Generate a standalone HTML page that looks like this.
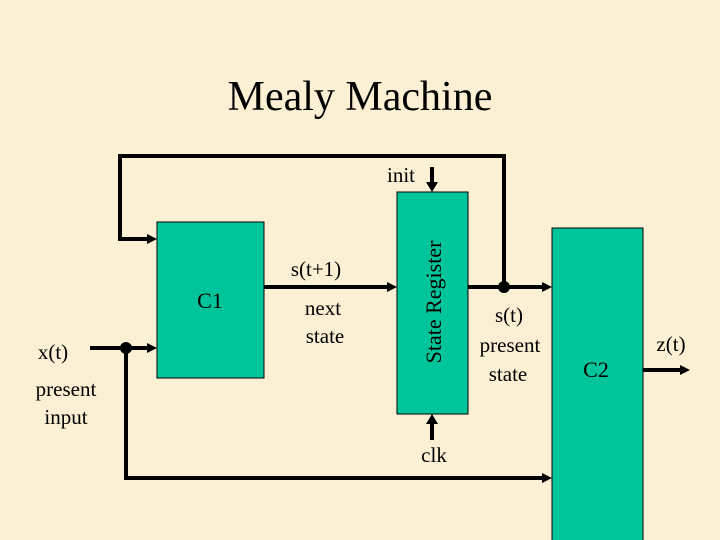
<!DOCTYPE html>
<html><head><meta charset="utf-8"><style>
body{margin:0;width:720px;height:540px;overflow:hidden;background:#fcf0d6;}
svg{display:block}
</style></head><body>
<svg width="720" height="540" xmlns="http://www.w3.org/2000/svg" font-family="Liberation Serif, serif">
<defs>
<marker id="a" markerWidth="10" markerHeight="10" refX="10" refY="5" orient="auto" markerUnits="userSpaceOnUse"><path d="M0,0 L10,5 L0,10 z" fill="#000"/></marker>
</defs>
<rect width="720" height="540" fill="#fbefd4"/>
<text x="360" y="110" font-size="42" text-anchor="middle">Mealy Machine</text>
<rect x="157" y="222" width="107" height="156" fill="#00c49a" stroke="#000" stroke-width="1"/>
<rect x="397" y="192" width="71" height="222" fill="#00c49a" stroke="#000" stroke-width="1"/>
<rect x="552" y="228" width="91" height="314" fill="#00c49a" stroke="#000" stroke-width="1"/>
<g stroke="#000" stroke-width="4" fill="none">
<polyline points="504,287 504,156 120,156 120,239 148,239"/>
<line x1="264" y1="287" x2="388" y2="287"/>
<line x1="468" y1="287" x2="543" y2="287"/>
<line x1="90" y1="348" x2="148" y2="348"/>
<polyline points="126,348 126,478 543,478"/>
<line x1="432" y1="167" x2="432" y2="183"/>
<line x1="432" y1="440" x2="432" y2="423"/>
<line x1="643" y1="370" x2="681" y2="370"/>
</g>
<g fill="#000">
<path d="M147,234 L157,239 L147,244 z"/>
<path d="M387,282 L397,287 L387,292 z"/>
<path d="M542,282 L552,287 L542,292 z"/>
<path d="M147,343 L157,348 L147,353 z"/>
<path d="M542,473 L552,478 L542,483 z"/>
<path d="M426,182 L432,192 L438,182 z"/>
<path d="M426,424 L432,414 L438,424 z"/>
<path d="M680,365 L690,370 L680,375 z"/>
</g>
<circle cx="504" cy="287" r="6" fill="#000"/>
<circle cx="126" cy="348" r="6" fill="#000"/>
<g font-size="21" text-anchor="middle">
<text x="401" y="182">init</text>
<text x="210" y="308" font-size="22">C1</text>
<text x="316" y="276">s(t+1)</text>
<text x="323" y="315">next</text>
<text x="325" y="343">state</text>
<text x="509" y="322">s(t)</text>
<text x="510" y="352">present</text>
<text x="508" y="381">state</text>
<text x="596" y="377" font-size="22">C2</text>
<text x="671" y="351">z(t)</text>
<text x="53" y="359">x(t)</text>
<text x="66" y="396">present</text>
<text x="66" y="424">input</text>
<text x="434" y="462">clk</text>
<text transform="translate(441,302) rotate(-90)" font-size="22">State Register</text>
</g>
</svg>
</body></html>
